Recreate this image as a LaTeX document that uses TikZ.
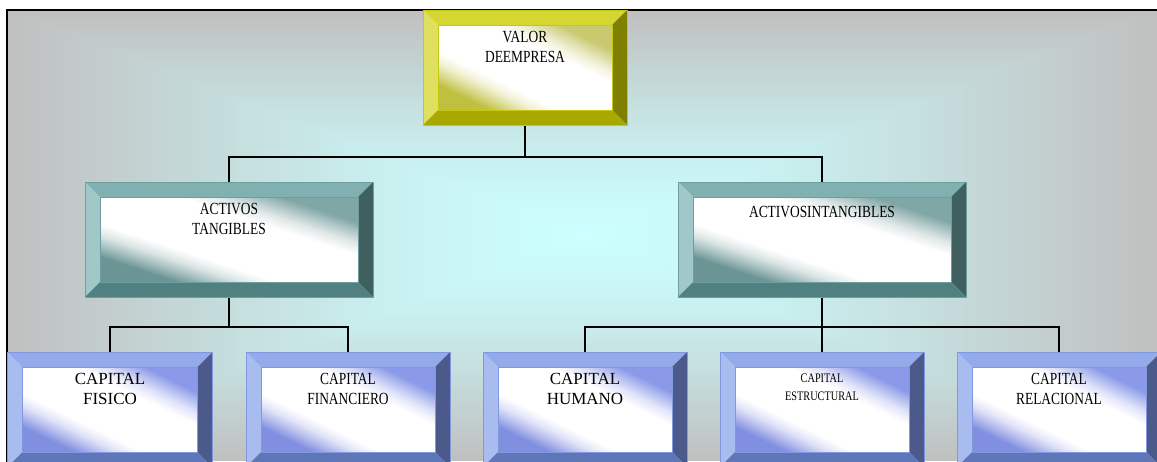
\documentclass[tikz,border=0pt]{standalone}
\usepackage{fontspec}
\setmainfont{Liberation Serif}
\newfontfamily\condfont[FakeStretch=0.79]{Liberation Serif}
\usetikzlibrary{calc}

% panel glow
\definecolor{bgIn}{HTML}{CCFFFF}
\definecolor{bgOut}{HTML}{C0C0C0}
% yellow bevel
\definecolor{yL}{HTML}{E0E060}
\definecolor{yT}{HTML}{D6D630}
\definecolor{yR}{HTML}{808000}
\definecolor{yB}{HTML}{A8A800}
\definecolor{yE}{HTML}{C8C810}
% teal bevel
\definecolor{tL}{HTML}{A0C8C8}
\definecolor{tT}{HTML}{80B0B0}
\definecolor{tR}{HTML}{406060}
\definecolor{tB}{HTML}{508080}
\definecolor{tE}{HTML}{6E9E9E}
% blue bevel
\definecolor{bL}{HTML}{A8BCF0}
\definecolor{bT}{HTML}{93AAEB}
\definecolor{bR}{HTML}{4B5A8A}
\definecolor{bB}{HTML}{5F77B9}
\definecolor{bE}{HTML}{8098E0}

% face shadings: tinted lower-left and upper-right corners, broad white diagonal band
\pgfdeclareverticalshading{yIn}{100bp}{rgb(0bp)=(.75,.75,.25); rgb(25bp)=(.75,.75,.25); rgb(29bp)=(.84,.84,.51); rgb(34bp)=(.94,.94,.81); rgb(39bp)=(1,1,1); rgb(61bp)=(1,1,1); rgb(66bp)=(.95,.95,.86); rgb(71bp)=(.86,.86,.64); rgb(75bp)=(.79,.79,.44); rgb(100bp)=(.79,.79,.44)}
\pgfdeclareverticalshading{tIn}{100bp}{rgb(0bp)=(.42,.58,.58); rgb(25bp)=(.42,.58,.58); rgb(29bp)=(.62,.73,.73); rgb(34bp)=(.86,.90,.90); rgb(39bp)=(1,1,1); rgb(61bp)=(1,1,1); rgb(66bp)=(.88,.91,.91); rgb(71bp)=(.68,.77,.77); rgb(75bp)=(.50,.65,.65); rgb(100bp)=(.50,.65,.65)}
\pgfdeclareverticalshading{bIn}{100bp}{rgb(0bp)=(.50,.56,.88); rgb(25bp)=(.50,.56,.88); rgb(29bp)=(.68,.71,.92); rgb(34bp)=(.88,.89,.97); rgb(39bp)=(1,1,1); rgb(61bp)=(1,1,1); rgb(66bp)=(.89,.90,.98); rgb(71bp)=(.70,.74,.94); rgb(75bp)=(.54,.60,.91); rgb(100bp)=(.54,.60,.91)}

% bevelled frame around a named box node; #2 colour prefix, #3 face width, #4 face height
\newcommand\bevel[4]{%
  \fill[#2T] (#1.north west) -- (#1.north east) -- ($(#1.north east)+(-15,15)$) -- ($(#1.north west)+(15,15)$) -- cycle;
  \fill[#2L] (#1.north west) -- (#1.south west) -- ($(#1.south west)+(15,-15)$) -- ($(#1.north west)+(15,15)$) -- cycle;
  \fill[#2R] (#1.north east) -- (#1.south east) -- ($(#1.south east)+(-15,-15)$) -- ($(#1.north east)+(-15,15)$) -- cycle;
  \fill[#2B] (#1.south west) -- (#1.south east) -- ($(#1.south east)+(-15,-15)$) -- ($(#1.south west)+(15,-15)$) -- cycle;
  % face: a diagonally shaded square stretched onto the face rectangle
  \shade[shading=#2In, shading angle=-45,
         transform canvas={shift={(#1.center)}, xscale=#3/100, yscale=#4/100}]
    (-50,-50) rectangle (50,50);
  \draw[#2E, line width=0.7] ($(#1.north west)+(15,15)$) rectangle ($(#1.south east)+(-15,-15)$);
  \draw[#2E, line width=0.9] (#1.north west) rectangle (#1.south east);
}

\tikzset{
  boxnode/.style={rectangle, inner sep=0pt, outer sep=0pt, minimum width=204pt, minimum height=115pt},
  widebox/.style={boxnode, minimum width=288pt},
  conn/.style={line width=1.8pt, black},
  lbl/.style={anchor=north, align=center, inner sep=0pt, text=black, font=\condfont\fontsize{17}{20}\selectfont},
  lblwide/.style={lbl, font=\fontsize{17}{20}\selectfont},
  lblsmall/.style={lbl, font=\condfont\fontsize{13}{18}\selectfont},
}

\begin{document}
\begin{tikzpicture}[x=1pt, y=-1pt]
\useasboundingbox (0,0) rectangle (1157,461);
\begin{scope}
  \clip (0,0) rectangle (1157,461);
  \fill[white] (0,0) rectangle (1157,461);
  % panel: rectangular glow from the centre outwards
  \coordinate (pc) at (582,235.5);
  \foreach \i in {60,59,...,1}{
    \pgfmathsetmacro\s{\i/60}
    \pgfmathsetmacro\hw{575*\s}
    \pgfmathsetmacro\hh{225.5*\s}
    \pgfmathsetmacro\pmix{100*(\s^1.3)}
    \fill[bgOut!\pmix!bgIn] ($(pc)+(-\hw,-\hh)$) rectangle ($(pc)+(\hw,\hh)$);
  }
  \draw[line width=2pt, black] (7,480) |- (1170,10);

  % boxes
  \node[boxnode] (valor) at (525,67.5) {};
  \node[widebox] (tang) at (229,239.5) {};
  \node[widebox] (intang) at (822,239.5) {};
  \node[boxnode, minimum width=205pt] (fisico) at (110,409.5) {};
  \node[boxnode] (finan) at (348,409.5) {};
  \node[boxnode] (humano) at (585,409.5) {};
  \node[boxnode] (estruc) at (822,409.5) {};
  \node[boxnode] (relac) at (1059,409.5) {};

  % connectors
  \draw[conn] (valor.south) -- ++(0,32) coordinate (vj) -| (tang.north);
  \draw[conn] (vj) -| (intang.north);
  \draw[conn] (tang.south) -- ++(0,30) coordinate (tj) -| (fisico.north);
  \draw[conn] (tj) -| (finan.north);
  \draw[conn] (intang.south) -- ++(0,30) coordinate (ij) -| (humano.north);
  \draw[conn] (ij) -- (estruc.north);
  \draw[conn] (ij) -| (relac.north);

  % bevelled faces
  \bevel{valor}{y}{174}{85}
  \bevel{tang}{t}{258}{85}
  \bevel{intang}{t}{258}{85}
  \bevel{fisico}{b}{175}{85}
  \bevel{finan}{b}{174}{85}
  \bevel{humano}{b}{174}{85}
  \bevel{estruc}{b}{174}{85}
  \bevel{relac}{b}{174}{85}

  % labels
  \node[lbl] (valor-t) at ($(valor.north)+(0,21.5)$) {VALOR\\DEEMPRESA};
  \node[lbl] (tang-t) at ($(tang.north)+(0,21.5)$) {ACTIVOS\\TANGIBLES};
  \node[lbl] (intang-t) at ($(intang.north)+(0,24)$) {ACTIVOSINTANGIBLES};
  \node[lblwide] (fisico-t) at ($(fisico.north)+(0,21.5)$) {CAPITAL\\FISICO};
  \node[lbl] (finan-t) at ($(finan.north)+(0,21.5)$) {CAPITAL\\FINANCIERO};
  \node[lblwide] (humano-t) at ($(humano.north)+(0,21.5)$) {CAPITAL\\HUMANO};
  \node[lblsmall] (estruc-t) at ($(estruc.north)+(0,22)$) {CAPITAL\\ESTRUCTURAL};
  \node[lbl] (relac-t) at ($(relac.north)+(0,21.5)$) {CAPITAL\\RELACIONAL};
\end{scope}
\end{tikzpicture}
\end{document}
